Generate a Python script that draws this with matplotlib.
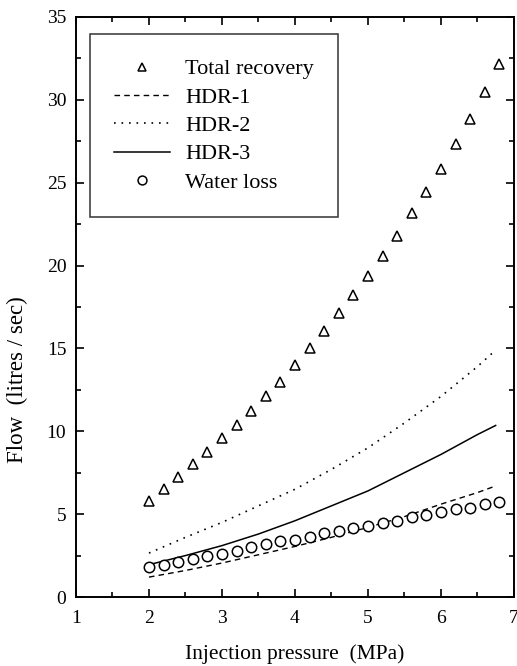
import matplotlib.pyplot as plt
from matplotlib.ticker import MultipleLocator

plt.rcParams['font.family'] = ['Liberation Serif', 'DejaVu Serif']

# measured points
pressure = [2.0, 2.2, 2.4, 2.6, 2.8, 3.0, 3.2, 3.4, 3.6, 3.8, 4.0, 4.2, 4.4,
            4.6, 4.8, 5.0, 5.2, 5.4, 5.6, 5.8, 6.0, 6.2, 6.4, 6.6, 6.8]
total_recovery = [5.8, 6.5, 7.25, 8.0, 8.75, 9.6, 10.4, 11.2, 12.1, 13.0, 14.0,
                  15.05, 16.05, 17.15, 18.2, 19.35, 20.55, 21.8, 23.15, 24.45,
                  25.85, 27.35, 28.85, 30.45, 32.15]
water_loss = [1.8, 1.95, 2.1, 2.3, 2.45, 2.6, 2.8, 3.0, 3.2, 3.35, 3.45, 3.65,
              3.85, 4.0, 4.15, 4.3, 4.45, 4.6, 4.8, 4.95, 5.1, 5.3, 5.4, 5.6, 5.75]

# model curves
model_p = [2.0, 2.5, 3.0, 3.5, 4.0, 4.5, 5.0, 5.5, 6.0, 6.5, 6.75]
hdr1 = [1.2, 1.6, 2.05, 2.55, 3.05, 3.6, 4.2, 4.85, 5.6, 6.3, 6.7]
hdr2 = [2.65, 3.6, 4.5, 5.5, 6.5, 7.7, 9.0, 10.5, 12.1, 13.9, 14.9]
hdr3 = [1.95, 2.5, 3.1, 3.8, 4.6, 5.5, 6.4, 7.5, 8.6, 9.8, 10.35]

fig = plt.figure(figsize=(5.17, 6.66), dpi=100)
ax = fig.add_axes([0.147, 0.1036, 0.847, 0.871])

ax.plot(pressure, total_recovery, linestyle='none', marker='^', markersize=7,
        markerfacecolor='white', markeredgecolor='black', markeredgewidth=1.1,
        label='Total recovery')
ax.plot(model_p, hdr1, color='black', linestyle=(0, (4, 3)), linewidth=1.0, label='HDR-1')
ax.plot(model_p, hdr2, color='black', linestyle=(0, (1, 3.5)), linewidth=1.2, label='HDR-2')
ax.plot(model_p, hdr3, color='black', linestyle='-', linewidth=1.1, label='HDR-3')
ax.plot(pressure, water_loss, linestyle='none', marker='o', markersize=7.5,
        markerfacecolor='white', markeredgecolor='black', markeredgewidth=1.1,
        label='Water loss')

ax.set_xlim(1, 7)
ax.set_ylim(0, 35)
ax.xaxis.set_major_locator(MultipleLocator(1))
ax.xaxis.set_minor_locator(MultipleLocator(0.5))
ax.yaxis.set_major_locator(MultipleLocator(5))
ax.yaxis.set_minor_locator(MultipleLocator(2.5))
ax.tick_params(which='both', direction='in', top=True, right=True, labelsize=14, width=1.2)
ax.tick_params(which='major', length=6, pad=7)
ax.tick_params(axis='x', which='major', pad=9)
ax.tick_params(which='minor', length=3.5)
for s in ax.spines.values():
    s.set_linewidth(1.4)

ax.set_xlabel('Injection pressure  (MPa)', fontsize=15.5, labelpad=13)
ax.set_ylabel('Flow  (litres / sec)', fontsize=16.5)
ax.yaxis.set_label_coords(-0.11, 0.375)

leg = ax.legend(loc='upper left', bbox_to_anchor=(0.032, 0.97), borderaxespad=0,
                fontsize=16, frameon=True, fancybox=False, handlelength=2.5,
                handletextpad=0.68, borderpad=1.1, labelspacing=0.35,
                markerscale=0.85)
leg.get_frame().set_edgecolor('black')
leg.get_frame().set_linewidth(1.1)

fig.savefig('out.png', dpi=100)
